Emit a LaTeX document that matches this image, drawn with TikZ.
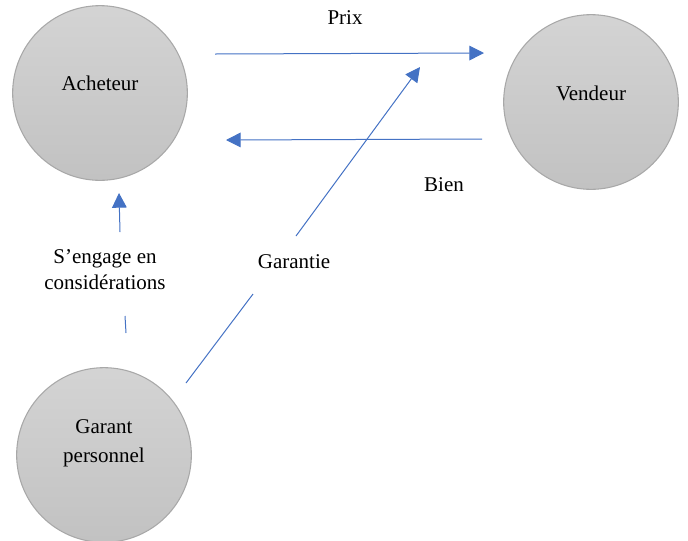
\documentclass[tikz,border=0pt]{standalone}
\usepackage{fontspec}
\setmainfont{Liberation Serif}
\usetikzlibrary{arrows.meta}
\definecolor{flow}{HTML}{4472C4}
\definecolor{rim}{HTML}{A8A8A8}
\begin{document}
\begin{tikzpicture}[x=0.75pt,y=-0.75pt,
  party/.style={circle,draw=rim,line width=0.8pt,minimum size=131pt,inner sep=0pt,
    top color=black!17,bottom color=black!24},
  txt/.style={font=\fontsize{15.75}{19.5}\selectfont,align=center,inner sep=0pt},
  flowline/.style={draw=flow,line width=0.75pt},
  flowarrow/.style={flowline,-{Triangle[length=11pt,width=11pt]}}]
\useasboundingbox (0,0) rectangle (688,540);

% the three parties
\node[party] (ach) at (100,93) {};
\node[party] (ven) at (591,102) {};
\node[party] (gar) at (104,455) {};
\node[txt] (achT) at (100,83) {Acheteur};
\node[txt] (venT) at (591,93) {Vendeur};
\node[txt,font=\fontsize{15.75}{21.5}\selectfont] (garT) at (104,443) {Garant\\personnel};

% price flows from buyer to seller
\coordinate (prixA) at (215,54);
\coordinate (prixB) at (484,53);
\draw[flowarrow] (prixA) -- (prixB);
\node[txt] (prixT) at (345,18) {Prix};

% goods flow from seller to buyer
\coordinate (bienA) at (482,139);
\coordinate (bienB) at (226,140);
\draw[flowarrow] (bienA) -- (bienB);
\node[txt] (bienT) at (444,185) {Bien};

% guarantee given by the guarantor
\coordinate (garA) at (186,383);
\coordinate (garB) at (253,294);
\coordinate (garC) at (296,236);
\coordinate (garD) at (420,67);
\draw[flowline] (garA) -- (garB);
\draw[flowarrow] (garC) -- (garD);
\node[txt] (garantieT) at (294,262) {Garantie};

% undertaking towards the buyer
\coordinate (engA) at (126,333);
\coordinate (engB) at (125,316);
\coordinate (engC) at (120,232);
\coordinate (engD) at (119,193);
\draw[flowline] (engA) -- (engB);
\draw[flowarrow] (engC) -- (engD);
\node[txt] (engT) at (105,270) {S’engage en\\considérations};
\end{tikzpicture}
\end{document}
